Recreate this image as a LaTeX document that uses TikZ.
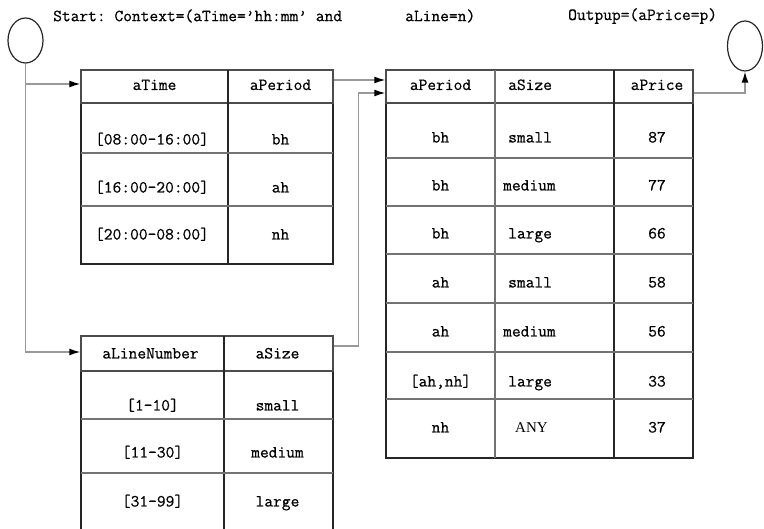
\documentclass[tikz,border=0pt]{standalone}
\usepackage{fontspec}
\newfontfamily\anyfont{Liberation Serif}
\newfontfamily\tabfont[FakeBold=0.6]{Latin Modern Mono}
\usetikzlibrary{positioning}
\usetikzlibrary{calc}
\usetikzlibrary{arrows.meta}
\usetikzlibrary{shapes.geometric}
\tikzstyle{endpoint} = [ellipse, draw=black!85, line width=1.2pt, minimum width=35pt, minimum height=45pt, inner sep=0pt]
\tikzstyle{tbl}      = [rectangle, draw=black!85, line width=1.3pt, inner sep=0pt]
\tikzstyle{hdr}      = [rectangle, draw=black!70, line width=1.5pt, inner sep=0pt, minimum height=33pt]
\tikzstyle{rowrule}  = [draw=black!55, line width=1.2pt]
\tikzstyle{colrule}  = [draw=black!85, line width=1.2pt]
\tikzstyle{cell}     = [font=\tabfont\frenchspacing\fontsize{17}{20}\selectfont, text height=10pt, text depth=3pt, inner sep=0pt]
\tikzstyle{txt}      = [font=\tabfont\frenchspacing\fontsize{17}{20}\selectfont, inner sep=0pt]
\tikzstyle{line}     = [draw=black!40, line width=1.3pt, -{Latex[length=11pt,width=7pt,color=black]}]

\begin{document}
\begin{tikzpicture}[x=1pt, y=-1pt]
        \useasboundingbox (0,0) rectangle (764,529);
        \clip (0,0) rectangle (764,529);
        % start / end and context
        \node [endpoint] (start) at (25.5,40.5) {};
        \node [endpoint, minimum height=50pt] (stop) at (745,46) {};
        \node [txt, anchor=west] (ctx) at (53,16) {Start: Context=(aTime=’hh:mm’ and};
        \node [txt, anchor=west] (ctxline) at (405,16) {aLine=n)};
        \node [txt, anchor=west] (out) at (568,16) {Outpup=(aPrice=p)};
        % aTime -> aPeriod
        \node [tbl, minimum width=252pt, minimum height=194pt] (time) at (207,167) {};
        \node [hdr, minimum width=252pt] (time-head) at (207,86.5) {};
        \draw [colrule] (228,70) -- (228,264);
        \foreach \y in {153,206} \draw [rowrule] (81,\y) -- (333,\y);
        \node [cell] (time-h1) at (154.5,86.5) {aTime};
        \node [cell] (time-h2) at (280.5,86.5) {aPeriod};
        \foreach \t/\p/\y [count=\i] in {{[08:00-16:00]}/bh/141,{[16:00-20:00]}/ah/189,{[20:00-08:00]}/nh/236}{
                \node [cell] (time-t\i) at (152,\y) {\t};
                \node [cell] (time-p\i) at (280.5,\y) {\p};
        }
        % aLineNumber -> aSize
        \node [tbl, minimum width=252pt, minimum height=220pt] (size) at (207,446) {};
        \node [hdr, minimum width=252pt, minimum height=35pt] (size-head) at (207,353.5) {};
        \draw [colrule] (224,336) -- (224,556);
        \foreach \y in {419,473} \draw [rowrule] (81,\y) -- (333,\y);
        \node [cell] (size-h1) at (150.5,355) {aLineNumber};
        \node [cell] (size-h2) at (277.5,355) {aSize};
        \foreach \n/\s/\y [count=\i] in {{[1-10]}/small/407,{[11-30]}/medium/454,{[31-99]}/large/503}{
                \node [cell] (size-n\i) at (152.5,\y) {\n};
                \node [cell] (size-s\i) at (277.5,\y) {\s};
        }
        % aPeriod, aSize -> aPrice
        \node [tbl, minimum width=307pt, minimum height=388pt] (price) at (539.5,264) {};
        \node [hdr, minimum width=307pt] (price-head) at (539.5,86.5) {};
        \draw [rowrule] (495,70) -- (495,458);
        \draw [colrule] (614,70) -- (614,458);
        \foreach \y in {158,206,254,303,352,399} \draw [rowrule] (386,\y) -- (693,\y);
        \node [cell] (price-h1) at (440.5,86.5) {aPeriod};
        \node [cell, anchor=west] (price-h2) at (508,86.5) {aSize};
        \node [cell] (price-h3) at (657,86.5) {aPrice};
        \foreach \p/\s/\sx/\c/\y [count=\i] in {bh/small/508/87/139,bh/medium/503/77/187,bh/large/508/66/235,ah/small/508/58/284,ah/medium/503/56/333,{[ah,nh]}/large/508/33/383}{
                \node [cell] (price-p\i) at (440.5,\y) {\p};
                \node [cell, anchor=west] (price-s\i) at (\sx,\y) {\s};
                \node [cell] (price-c\i) at (657,\y) {\c};
        }
        \node [cell] (price-p7) at (440.5,429) {nh};
        \node [cell, anchor=west, font=\anyfont\fontsize{15}{18}\selectfont] (price-s7) at (515,429) {ANY};
        \node [cell] (price-c7) at (657,429) {37};
        % connectors
        \path [line] (start.south) |- ([yshift=2.5pt]time-head.west);
        \path [line] (start.south) |- ([yshift=1.5pt]size-head.west);
        \path [line] ([yshift=6.5pt]time-head.east) -- ([yshift=6.5pt]price-head.west);
        \path [line] ([yshift=7.5pt]size-head.east) -- ++(25,0) |- ([yshift=-6.5pt]price-head.west);
        \path [line] ([yshift=-6.5pt]price-head.east) -| (stop.south);
\end{tikzpicture}
\end{document}
